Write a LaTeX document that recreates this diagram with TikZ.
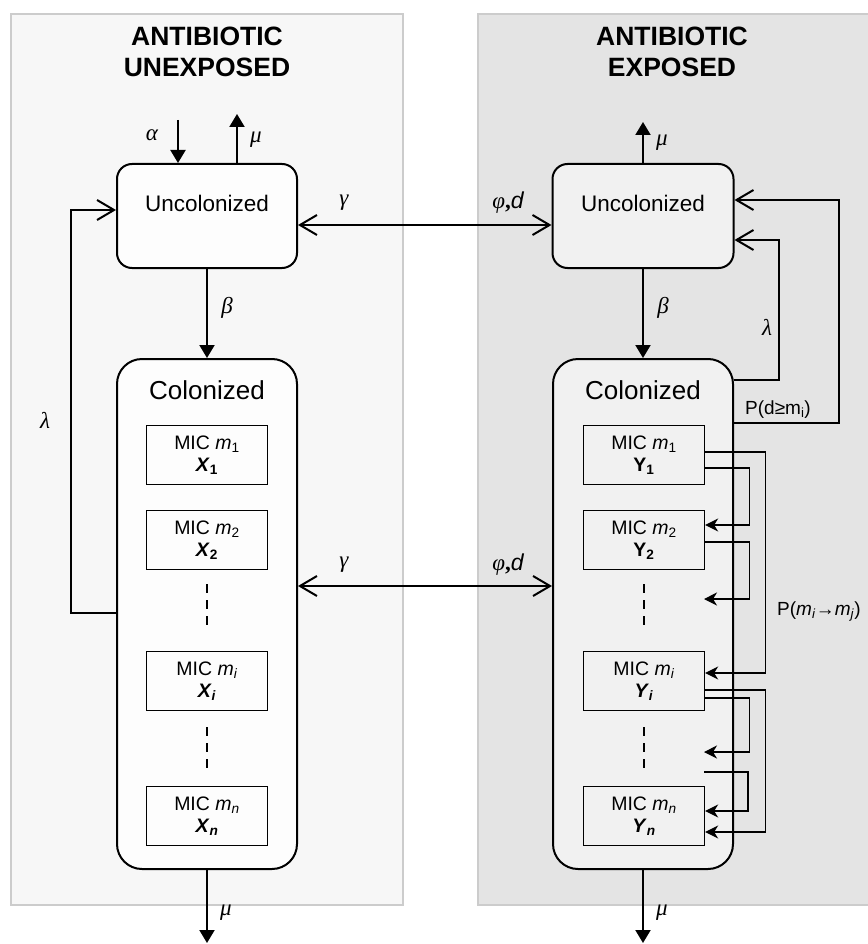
\documentclass[tikz,border=0pt]{standalone}
\usepackage{fontspec}
\setmainfont{Liberation Sans}
\newfontfamily\gk{Liberation Serif}
\usetikzlibrary{arrows.meta}
\definecolor{lpan}{HTML}{F7F7F7}
\definecolor{rpan}{HTML}{E4E4E4}
\definecolor{pborder}{HTML}{CCCCCC}
\definecolor{rbox}{HTML}{F1F1F1}
\definecolor{lbox}{HTML}{FDFDFD}
\begin{document}
\begin{tikzpicture}[x=1pt,y=-1pt,
  panel/.style={draw=pborder,line width=2.4pt},
  bigbox/.style={draw=black,line width=2pt,rounded corners=#1,inner sep=0pt},
  bigbox/.default=15pt,
  mic/.style={draw=black,line width=1.3pt,minimum width=121pt,minimum height=59pt,inner sep=0pt,align=center,font=\fontsize{19.5}{22}\selectfont},
  title/.style={anchor=base,font=\fontsize{26.5}{30}\selectfont\bfseries},
  gl/.style={font=\fontsize{23}{26}\selectfont\gk\itshape,inner sep=0pt},
  sl/.style={font=\fontsize{19}{22}\selectfont,inner sep=0pt},
  main/.style={line width=2pt,-{Triangle[length=13pt,width=15pt]}},
  open/.style={line width=2pt,-{Straight Barb[length=17pt,width=20pt,line width=2pt]}},
  dbl/.style={line width=2pt,{Straight Barb[length=17pt,width=20pt,line width=2pt]}-{Straight Barb[length=17pt,width=20pt,line width=2pt]}},
  thinarr/.style={line width=1.3pt,-{Stealth[length=13pt,width=13pt,inset=4pt]}},
  dashln/.style={line width=2pt,dash pattern=on 9pt off 7pt}
]
\useasboundingbox (0,0) rectangle (867,944);
% panels
\path[panel,fill=lpan] (11,14) rectangle (403,905);
\path[panel,fill=rpan] (478,14) rectangle (885,905);
% titles
\node[title] (lt1) at (207,46) {ANTIBIOTIC};
\node[title] (lt2) at (207,77) {UNEXPOSED};
\node[title] (rt1) at (672,46) {ANTIBIOTIC};
\node[title] (rt2) at (672,77) {EXPOSED};
% big boxes
\node[bigbox=15pt,fill=lbox,minimum width=180pt,minimum height=104pt] (lunc) at (207,216) {};
\node[bigbox=25pt,fill=lbox,minimum width=180pt,minimum height=510pt] (lcol) at (207,614) {};
\node[bigbox=15pt,fill=rbox,minimum width=181pt,minimum height=104pt] (runc) at (643,216) {};
\node[bigbox=25pt,fill=rbox,minimum width=180pt,minimum height=510pt] (rcol) at (643,614) {};
\node[anchor=base,font=\fontsize{22.5}{25}\selectfont] (lunct) at (207,211) {Uncolonized};
\node[anchor=base,font=\fontsize{22.5}{25}\selectfont] (runct) at (643,211) {Uncolonized};
\node[anchor=base,font=\fontsize{26}{29}\selectfont] (lcolt) at (207,399) {Colonized};
\node[anchor=base,font=\fontsize{26}{29}\selectfont] (rcolt) at (643,399) {Colonized};
% MIC boxes left
\node[mic,fill=lbox] (X1) at (207,455) {MIC \textit{m}\textsubscript{1}\\\textbf{\textit{X}\textsubscript{1}}};
\node[mic,fill=lbox] (X2) at (207,540) {MIC \textit{m}\textsubscript{2}\\\textbf{\textit{X}\textsubscript{2}}};
\node[mic,fill=lbox] (Xi) at (207,681) {MIC \textit{m}\textsubscript{\textit{i}}\\\textbf{\textit{X}\textsubscript{\textit{i}}}};
\node[mic,fill=lbox] (Xn) at (207,816) {MIC \textit{m}\textsubscript{\textit{n}}\\\textbf{\textit{X}\textsubscript{\textit{n}}}};
% MIC boxes right
\node[mic,fill=rbox] (Y1) at (644,455) {MIC \textit{m}\textsubscript{1}\\\textbf{Y\textsubscript{1}}};
\node[mic,fill=rbox] (Y2) at (644,540) {MIC \textit{m}\textsubscript{2}\\\textbf{Y\textsubscript{2}}};
\node[mic,fill=rbox] (Yi) at (644,681) {MIC \textit{m}\textsubscript{\textit{i}}\\\textbf{\textit{Y}\textsubscript{\textit{i}}}};
\node[mic,fill=rbox] (Yn) at (644,816) {MIC \textit{m}\textsubscript{\textit{n}}\\\textbf{\textit{Y}\textsubscript{\textit{n}}}};
% dashes
\draw[dashln] ([yshift=-14]X2.south) -- ([yshift=20]Xi.north);
\draw[dashln] ([yshift=-16]Xi.south) -- ([yshift=13]Xn.north);
\draw[dashln] ([yshift=-14]Y2.south) -- ([yshift=20]Yi.north);
\draw[dashln] ([yshift=-16]Yi.south) -- ([yshift=13]Yn.north);
% free ends
\coordinate (alpha0) at (178,120);
\coordinate (muL0) at (237,114);
\coordinate (muR0) at (643,122);
\coordinate (muLB) at (207,943);
\coordinate (muRB) at (643,943);
\coordinate (c1) at (704,599);
\coordinate (c2) at (704,752);
\coordinate (c3) at (704,772);
% main arrows
\draw[main] (alpha0) -- (alpha0 |- lunc.north);
\draw[main] (muL0 |- lunc.north) -- (muL0);
\draw[main] (runc.north) -- (muR0);
\draw[main] (lunc.south) -- (lcol.north);
\draw[main] (runc.south) -- (rcol.north);
\draw[main] (lcol.south) -- (muLB);
\draw[main] (rcol.south) -- (muRB);
% gamma / phi,d
\draw[dbl] ([yshift=-9]lunc.east) -- ([yshift=-9]runc.west);
\draw[dbl] ([yshift=28]lcol.east) -- ([yshift=28]rcol.west);
% lambda loops
\draw[open] ([yshift=1]lcol.west) -- ++(-45,0) |- ([yshift=6]lunc.west);
\draw[open] ([yshift=234]rcol.east) -- ++(45,0) |- ([yshift=-24]runc.east);
\draw[open] ([yshift=191]rcol.east) -- ++(105,0) |- ([yshift=16]runc.east);
% transitions
\draw[thinarr] ([yshift=3]Y1.east) -- ++(60,0) |- ([yshift=8]Yi.east);
\draw[thinarr] ([yshift=-13]Y1.east) -- ++(44,0) |- ([yshift=15]Y2.east);
\draw[thinarr] ([yshift=-2]Y2.east) -- ++(44,0) |- (c1);
\draw[thinarr] ([yshift=-9]Yi.east) -- ++(60,0) |- ([yshift=-16]Yn.east);
\draw[thinarr] ([yshift=-17]Yi.east) -- ++(44,0) |- (c2);
\draw[thinarr] (c3) -- ++(44,0) |- ([yshift=5]Yn.east);
% labels
\node[gl] (la) at (152,135) {α};
\node[gl] (lmu1) at (256,140) {μ};
\node[gl] (lmu2) at (662,143) {μ};
\node[gl] (lb1) at (227,308) {β};
\node[gl] (lb2) at (663,308) {β};
\node[gl] (lg1) at (344,203) {γ};
\node[gl] (lg2) at (344,565) {γ};
\node[gl] (lp1) at (508,203) {φ\textup{\bfseries ,}{\fontspec{Liberation Sans}\itshape d}};
\node[gl] (lp2) at (508,565) {φ\textup{\bfseries ,}{\fontspec{Liberation Sans}\itshape d}};
\node[gl] (ll1) at (45,420) {λ};
\node[gl] (ll2) at (767,327) {λ};
\node[gl] (lmu3) at (226,913) {μ};
\node[gl] (lmu4) at (662,913) {μ};
\node[sl,anchor=base west] (pd) at (745,414) {P(d≥m\textsubscript{i})};
\node[sl,anchor=base west] (pm) at (777,615) {P(\textit{m}\textsubscript{\textit{i}}→\textit{m}\textsubscript{\textit{j}})};
\end{tikzpicture}
\end{document}
